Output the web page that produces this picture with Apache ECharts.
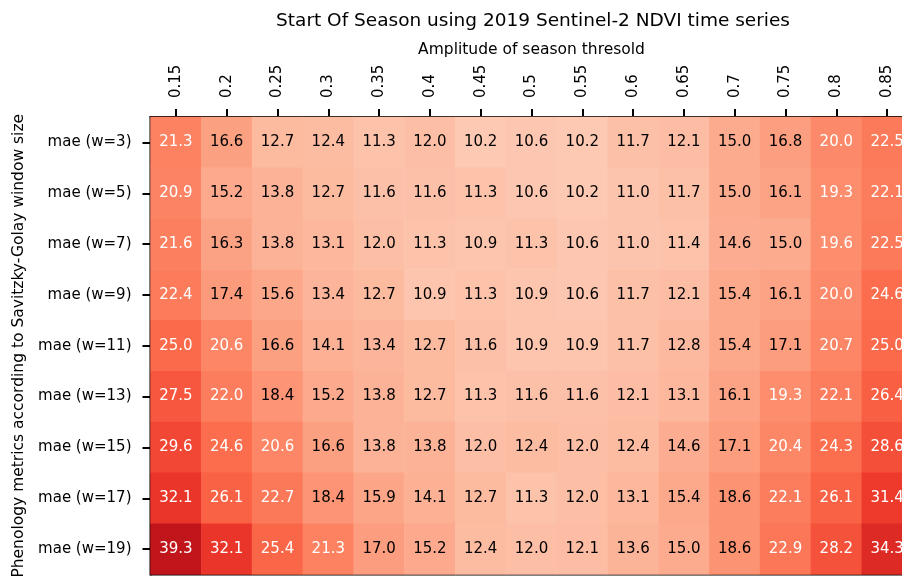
<!DOCTYPE html>
<html>
<head>
<meta charset="utf-8">
<script src="https://cdn.jsdelivr.net/npm/echarts@6/dist/echarts.min.js"></script>
<style>
html,body{margin:0;padding:0;background:#fff;}
#c{width:902px;height:576px;}
</style>
</head>
<body>
<div id="c"></div>
<script>
var thresholds = ['0.15','0.2','0.25','0.3','0.35','0.4','0.45','0.5','0.55','0.6','0.65','0.7','0.75','0.8','0.85'];
var windows = ['mae (w=3)','mae (w=5)','mae (w=7)','mae (w=9)','mae (w=11)','mae (w=13)','mae (w=15)','mae (w=17)','mae (w=19)'];
var w3  = [21.3,16.6,12.7,12.4,11.3,12.0,10.2,10.6,10.2,11.7,12.1,15.0,16.8,20.0,22.5];
var w5  = [20.9,15.2,13.8,12.7,11.6,11.6,11.3,10.6,10.2,11.0,11.7,15.0,16.1,19.3,22.1];
var w7  = [21.6,16.3,13.8,13.1,12.0,11.3,10.9,11.3,10.6,11.0,11.4,14.6,15.0,19.6,22.5];
var w9  = [22.4,17.4,15.6,13.4,12.7,10.9,11.3,10.9,10.6,11.7,12.1,15.4,16.1,20.0,24.6];
var w11 = [25.0,20.6,16.6,14.1,13.4,12.7,11.6,10.9,10.9,11.7,12.8,15.4,17.1,20.7,25.0];
var w13 = [27.5,22.0,18.4,15.2,13.8,12.7,11.3,11.6,11.6,12.1,13.1,16.1,19.3,22.1,26.4];
var w15 = [29.6,24.6,20.6,16.6,13.8,13.8,12.0,12.4,12.0,12.4,14.6,17.1,20.4,24.3,28.6];
var w17 = [32.1,26.1,22.7,18.4,15.9,14.1,12.7,11.3,12.0,13.1,15.4,18.6,22.1,26.1,31.4];
var w19 = [39.3,32.1,25.4,21.3,17.0,15.2,12.4,12.0,12.1,13.6,15.0,18.6,22.9,28.2,34.3];
var rowsData = [w3,w5,w7,w9,w11,w13,w15,w17,w19];

var FONT = 'DejaVu Sans';
var data = [];
rowsData.forEach(function(row, r){
  row.forEach(function(v, c){
    data.push({value:[c, r, v], label:{color: v >= 19 ? '#ffffff' : '#000000'}});
  });
});

var chart = echarts.init(document.getElementById('c'), null, {renderer:'canvas'});
chart.setOption({
  animation:false,
  backgroundColor:'#ffffff',
  graphic:[{
    type:'text', x:533, y:21,
    style:{text:'Start Of Season using 2019 Sentinel-2 NDVI time series', fontFamily:FONT, fontSize:18.5, fill:'#000', textAlign:'center', textVerticalAlign:'middle'}
  }],
  grid:{left:150.5, top:117, right:-10.5, bottom:1.5, show:true, borderColor:'#000', borderWidth:2, backgroundColor:'transparent', containLabel:false, outerBoundsMode:'none'},
  xAxis:{
    type:'category', position:'top', data:thresholds,
    name:'Amplitude of season thresold', nameLocation:'middle', nameGap:59, nameMoveOverlap:false,
    nameTextStyle:{fontFamily:FONT, fontSize:15.5, color:'#000'},
    axisLine:{show:true, lineStyle:{color:'#000', width:2}},
    axisTick:{show:true, alignWithLabel:true, length:8, lineStyle:{color:'#000', width:2}},
    axisLabel:{rotate:-90, fontFamily:FONT, fontSize:15, color:'#000', margin:19},
    splitLine:{show:false}
  },
  yAxis:{
    type:'category', inverse:true, data:windows,
    name:'Phenology metrics according to Savitzky-Golay window size', nameLocation:'middle', nameGap:124, nameRotate:90, nameMoveOverlap:false,
    nameTextStyle:{fontFamily:FONT, fontSize:15.5, color:'#000'},
    axisLine:{show:true, lineStyle:{color:'#000', width:2}},
    axisTick:{show:true, alignWithLabel:true, length:8, lineStyle:{color:'#000', width:2}},
    axisLabel:{fontFamily:FONT, fontSize:15, color:'#000', margin:19},
    splitLine:{show:false}
  },
  visualMap:{
    show:false, type:'continuous', min:0, max:50, dimension:2,
    inRange:{color:['#fff5f0','#fee0d2','#fcbba1','#fc9272','#fb6a4a','#ef3b2c','#cb181d','#a50f15','#67000d']}
  },
  series:[{
    type:'heatmap', data:data,
    itemStyle:{borderWidth:0},
    label:{show:true, fontFamily:FONT, fontSize:15, formatter:function(p){return p.value[2].toFixed(1);}},
    emphasis:{disabled:true}
  }]
});
</script>
</body>
</html>
